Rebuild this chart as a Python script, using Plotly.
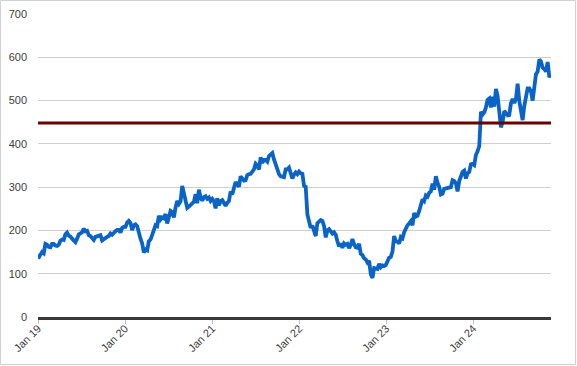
import pandas as pd
import plotly.graph_objects as go

# Weekly closing prices, Fridays starting 2019-01-04
start_date = "2019-01-02"
start_value = 135
prices_2019 = [138, 144, 150, 147, 169, 167, 162, 161, 169, 169, 165, 164, 167,
               176, 179, 178, 191, 195, 188, 186, 181, 177, 173, 181, 191, 193,
               196, 204, 198, 199, 189, 187, 183, 178, 185, 187, 187, 189, 177,
               180, 184, 185, 187, 193, 190, 195, 198, 201, 201, 195, 206, 208]
prices_2020 = [208, 218, 222, 217, 201, 212, 214, 210, 192, 181, 170, 149, 156,
               154, 175, 179, 190, 202, 212, 210, 234, 225, 230, 228, 238, 216,
               233, 245, 242, 230, 253, 268, 261, 267, 303, 282, 266, 252, 255,
               259, 265, 266, 284, 263, 294, 276, 269, 277, 279, 273, 276, 268]
prices_2021 = [273, 268, 251, 274, 258, 268, 270, 261, 257, 264, 268, 290, 283,
               298, 312, 306, 301, 325, 319, 315, 316, 328, 330, 331, 336, 341,
               354, 350, 341, 369, 356, 363, 363, 359, 372, 376, 379, 364, 352,
               343, 330, 325, 324, 323, 341, 341, 345, 333, 320, 329, 334, 330, 336]
prices_2022 = [332, 331, 303, 301, 237, 219, 206, 211, 200, 187, 217, 221,
               224, 222, 210, 184, 200, 203, 199, 193, 196, 190, 175, 163, 170,
               160, 170, 167, 169, 159, 167, 180, 168, 161, 160, 169, 146, 143, 136,
               133, 126, 130, 99, 90, 113, 112, 111, 123, 115, 119, 118, 120]
prices_2023 = [130, 137, 139, 151, 187, 175, 174, 170, 185, 182, 196, 206, 212,
               216, 221, 212, 240, 232, 234, 245, 262, 272, 268, 281, 278, 287,
               290, 308, 294, 325, 310, 301, 283, 285, 296, 297, 300, 300, 300,
               316, 314, 309, 290, 314, 328, 335, 338, 320, 332, 335, 353, 354]
prices_2024 = [351, 374, 383, 395, 474, 468, 473, 484, 502, 505, 484, 509, 486,
               527, 511, 481, 438, 451, 476, 471, 466, 467, 494, 504, 494, 504,
               539, 499, 476, 455, 488, 505, 528, 528, 521, 500, 525, 561, 567,
               595, 590, 576, 573, 567, 589, 554, 559]

threshold = 448
tick_dates = ["2019-01-01", "2020-01-01", "2021-01-01", "2022-01-01", "2023-01-01", "2024-01-01"]
tick_labels = ["Jan 19", "Jan 20", "Jan 21", "Jan 22", "Jan 23", "Jan 24"]
y_ticks = [0, 100, 200, 300, 400, 500, 600, 700]

values = prices_2019 + prices_2020 + prices_2021 + prices_2022 + prices_2023 + prices_2024
dates = [pd.Timestamp(start_date)] + list(pd.date_range("2019-01-04", periods=len(values), freq="W-FRI"))
values = [start_value] + values

W, H = 577, 366
ml, mr, mt, mb = 38, 26, 14, 49

fig = go.Figure()
fig.add_trace(go.Scatter(x=dates, y=values, mode="lines",
                         line=dict(color="#0a64c8", width=3.8), showlegend=False))
fig.add_hline(y=threshold, line=dict(color="#6b0000", width=3), layer="above")

pw = W - ml - mr
ph = H - mt - mb
fig.add_shape(type="rect", xref="paper", yref="paper",
              x0=-(ml - 0.5) / pw, x1=1 + (mr - 1.5) / pw,
              y0=-(mb - 1.5) / ph, y1=1 + (mt - 0.5) / ph,
              line=dict(color="#d0d0d0", width=1), layer="below")

fig.update_layout(
    width=W, height=H, margin=dict(l=ml, r=mr, t=mt, b=mb, autoexpand=False),
    paper_bgcolor="white", plot_bgcolor="white",
    font=dict(family="Liberation Sans, Arial, sans-serif", size=11, color="#404040"),
    xaxis=dict(type="date", range=["2019-01-01", "2024-11-22"], automargin=False,
               tickvals=tick_dates, ticktext=tick_labels, tickangle=-45,
               showgrid=False, zeroline=False,
               showline=True, linecolor="#3a3a3a", linewidth=2.5,
               ticks="outside", ticklen=4, tickcolor="#bfbfbf", tickwidth=1,
               ticklabelstandoff=-6),
    yaxis=dict(range=[0, 700], tickvals=y_ticks, showgrid=True, gridcolor="#cfcfcf",
               gridwidth=1, zeroline=False, showline=False, ticks="", automargin=False,
               ticklabelstandoff=10),
)

fig.write_html("out.html", config={"displayModeBar": False},
               post_script="document.body.style.margin='0';document.body.style.overflow='hidden';")
